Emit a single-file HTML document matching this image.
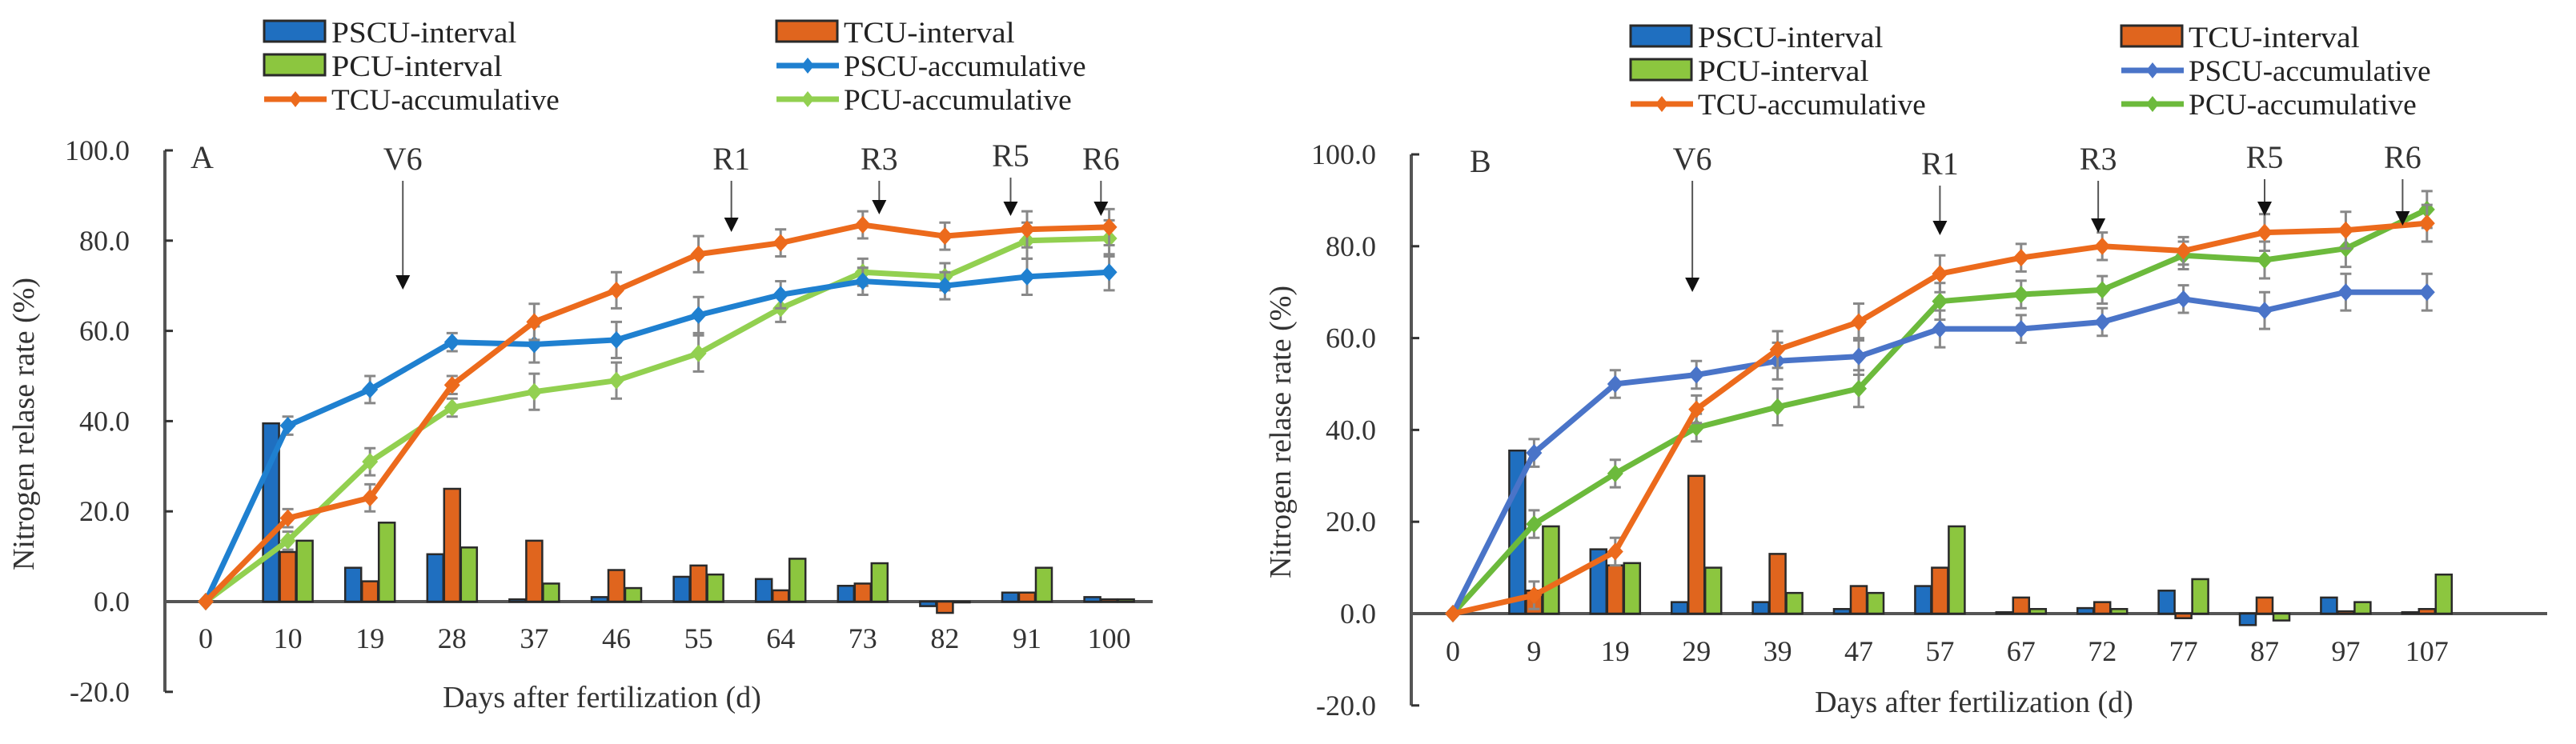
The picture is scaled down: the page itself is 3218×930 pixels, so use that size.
<!DOCTYPE html>
<html><head><meta charset="utf-8"><style>
html,body{margin:0;padding:0;background:#fff;}
svg{display:block;}
text{font-family:"Liberation Serif","DejaVu Serif",serif;}
</style></head><body>
<svg id="fig" width="3218" height="930" viewBox="0 0 3218 930" xmlns="http://www.w3.org/2000/svg" font-family="Liberation Serif, DejaVu Serif, serif">
<g id="chartA"></g>
<g id="chartB"></g>
</svg>
<script>
// ---- Chart A data ----
const catsA = ["0","10","19","28","37","46","55","64","73","82","91","100"];
const pscuAccA = [0,39,47,57.5,57,58,63.5,68,71,70,72,73];
const tcuAccA = [0,18.5,23,48,62,69,77,79.5,83.5,81,82.5,83];
const pcuAccA = [0,13.5,31,43,46.5,49,55,65,73,72,80,80.5];
const pscuIntA = [null,39.5,7.5,10.5,0.5,1,5.5,5,3.5,-1,2,1];
const tcuIntA = [null,11,4.5,25,13.5,7,8,2.5,4,-2.5,2,0.5];
const pcuIntA = [null,13.5,17.5,12,4,3,6,9.5,8.5,0,7.5,0.5];
const errA = [0,2,3,2,4,4,4,3,3,3,4,4];
const stagesA = ["V6","R1","R3","R5","R6"];
const stageIdxA = [2.4,6.4,8.2,9.8,10.9];
// ---- Chart B data ----
const catsB = ["0","9","19","29","39","47","57","67","72","77","87","97","107"];
const pscuAccB = [0,35,50,52,55,56,62,62,63.5,68.5,66,70,70];
const tcuAccB = [0,4,13.5,44.5,57.5,63.5,74,77.5,80,79,83,83.5,85];
const pcuAccB = [0,19.5,30.5,40.5,45,49,68,69.5,70.5,78,77,79.5,88];
const pscuIntB = [null,35.5,14,2.5,2.5,1,6,0.3,1.2,5,-2.5,3.5,0.3];
const tcuIntB = [null,5,10.5,30,13,6,10,3.5,2.5,-1,3.5,0.5,1];
const pcuIntB = [null,19,11,10,4.5,4.5,19,1,1,7.5,-1.5,2.5,8.5];
const errB = [0,3,3,3,4,4,4,3,3,3,4,4,4];
const stagesB = ["V6","R1","R3","R5","R6"];
const stageIdxB = [2.95,6.0,7.95,10.0,11.7];
const yTicks = [-20,0,20,40,60,80,100];

const NS="http://www.w3.org/2000/svg";
const FF="Liberation Serif, DejaVu Serif, serif";
function mk(parent,tag,attrs,txt){const e=document.createElementNS(NS,tag);for(const k in attrs)e.setAttribute(k,attrs[k]);if(txt!==undefined){e.textContent=txt;e.setAttribute("font-family",FF);}parent.appendChild(e);return e;}

function drawChart(g,o){
  const X=i=>o.x0+o.dx*i;
  const Y=v=>o.y0-v*o.py;
  const leg=[["PSCU-interval","bar","#1f6fc0"],["TCU-interval","bar","#e0651e"],["PCU-interval","bar","#8cc63f"],["PSCU-accumulative","line",o.cBlue],["TCU-accumulative","line","#ec6a1c"],["PCU-accumulative","line",o.cGreen]];
  leg.forEach((l,i)=>{
    const col=i%2, row=Math.floor(i/2);
    const sx=col?o.lx2:o.lx1, sy=o.ly+row*42;
    let sw;
    if(l[1]==="bar"){sw=mk(g,"rect",{x:sx,y:sy-14,width:76,height:26,fill:l[2],stroke:"#2a2a2a","stroke-width":3});}
    else{sw=mk(g,"g",{});mk(sw,"line",{x1:sx,y1:sy,x2:sx+78,y2:sy,stroke:l[2],"stroke-width":7});mk(sw,"path",{d:`M${sx+39} ${sy-10}L${sx+47} ${sy}L${sx+39} ${sy+10}L${sx+31} ${sy}Z`,fill:l[2]});}
    
    
    const t=mk(g,"text",{x:sx+84,y:sy+13,"font-size":37,fill:"#222",textLength:l[0].length*17.8,lengthAdjust:"spacingAndGlyphs"},l[0]);
    
    
  });
  const ya=mk(g,"line",{x1:o.ax,y1:Y(100),x2:o.ax,y2:Y(-20),stroke:"#555","stroke-width":4});
  
  
  yTicks.forEach(v=>{
    mk(g,"line",{x1:o.ax,y1:Y(v),x2:o.ax+10,y2:Y(v),stroke:"#333","stroke-width":3});
    const t=mk(g,"text",{x:o.ax-44,y:Y(v)+12,"font-size":36,"text-anchor":"end",fill:"#333"},v.toFixed(1));
    
    
  });
  const xa=mk(g,"line",{x1:o.ax,y1:Y(0),x2:o.xEnd,y2:Y(0),stroke:"#555","stroke-width":4});
  
  
  o.cats.forEach((c,i)=>{
    const t=mk(g,"text",{x:X(i),y:o.catY,"font-size":36,"text-anchor":"middle",fill:"#333"},c);
    
    
  });
  const yt=mk(g,"text",{x:0,y:0,"font-size":38,"text-anchor":"middle",fill:"#333",transform:`translate(${o.ytx},${o.yty}) rotate(-90)`},"Nitrogen relase rate (%)");
  
  
  const xt=mk(g,"text",{x:o.xtx,y:o.xty,"font-size":38,"text-anchor":"middle",fill:"#333"},"Days after fertilization (d)");
  
  
  const pl=mk(g,"text",{x:o.panelX,y:Y(100)+22,"font-size":40,fill:"#333"},o.panel);
  
  
  const series=[[o.bInt,"#1f6fc0",-21],[o.tInt,"#e0651e",0],[o.gInt,"#8cc63f",21]];
  series.forEach(s=>{
    s[0].forEach((v,i)=>{
      if(v===null)return;
      const y1=Y(Math.max(v,0)),y2=Y(Math.min(v,0));
      const r=mk(g,"rect",{x:X(i)+s[2]-10,y:y1,width:20,height:Math.max(y2-y1,1),fill:s[1],stroke:"#2a2a2a","stroke-width":2.5});
      
      
    });
  });
  const lines=[[o.gAcc,o.cGreen],[o.bAcc,o.cBlue],[o.tAcc,"#ec6a1c"]];
  lines.forEach(l=>{
    l[0].forEach((v,i)=>{
      const e=o.err[i]; if(!e)return;
      mk(g,"path",{d:`M${X(i)} ${Y(v+e)}V${Y(v-e)}M${X(i)-7} ${Y(v+e)}h14M${X(i)-7} ${Y(v-e)}h14`,stroke:"#888","stroke-width":3,fill:"none"});
    });
    const p=mk(g,"polyline",{points:l[0].map((v,i)=>X(i)+","+Y(v)).join(" "),fill:"none",stroke:l[1],"stroke-width":7,"stroke-linejoin":"round"});
    
    
    l[0].forEach((v,i)=>{
      const m=mk(g,"path",{d:`M${X(i)} ${Y(v)-11}L${X(i)+10} ${Y(v)}L${X(i)} ${Y(v)+11}L${X(i)-10} ${Y(v)}Z`,fill:l[1]});
      
      
    });
  });
  o.stages.forEach((s,k)=>{
    const ax=X(o.stageIdx[k]);
    const tipY=o.tips[k];
    const t=mk(g,"text",{x:ax,y:o.stageY[k],"font-size":40,"text-anchor":"middle",fill:"#333"},s);
    
    
    const a=mk(g,"g",{});
    
    
    mk(a,"line",{x1:ax,y1:o.stageY[k]+14,x2:ax,y2:tipY-14,stroke:"#555","stroke-width":2});
    mk(a,"path",{d:`M${ax-9} ${tipY-18}L${ax+9} ${tipY-18}L${ax} ${tipY}Z`,fill:"#111"});
  });
}

drawChart(document.getElementById("chartA"),{
  cats:catsA,x0:257,dx:102.6,y0:752,py:5.64,ax:206,xEnd:1440,catY:810,
  bAcc:pscuAccA,tAcc:tcuAccA,gAcc:pcuAccA,bInt:pscuIntA,tInt:tcuIntA,gInt:pcuIntA,err:errA,
  cBlue:"#1f80d0",cGreen:"#92d050",
  lx1:330,lx2:970,ly:40,ytx:42,yty:530,xtx:752,xty:884,panel:"A",panelX:238,
  stages:stagesA,stageIdx:stageIdxA,stageY:[212,212,212,208,212],tips:[362,290,268,270,270]
});
drawChart(document.getElementById("chartB"),{
  cats:catsB,x0:1815,dx:101.4,y0:767,py:5.74,ax:1763,xEnd:3182,catY:826,
  bAcc:pscuAccB,tAcc:tcuAccB,gAcc:pcuAccB,bInt:pscuIntB,tInt:tcuIntB,gInt:pcuIntB,err:errB,
  cBlue:"#4a74c8",cGreen:"#6cba3c",
  lx1:2037,lx2:2650,ly:46,ytx:1612,yty:540,xtx:2466,xty:890,panel:"B",panelX:1836,
  stages:stagesB,stageIdx:stageIdxB,stageY:[212,218,212,210,210],tips:[365,294,291,270,282]
});
</script>
</body></html>
